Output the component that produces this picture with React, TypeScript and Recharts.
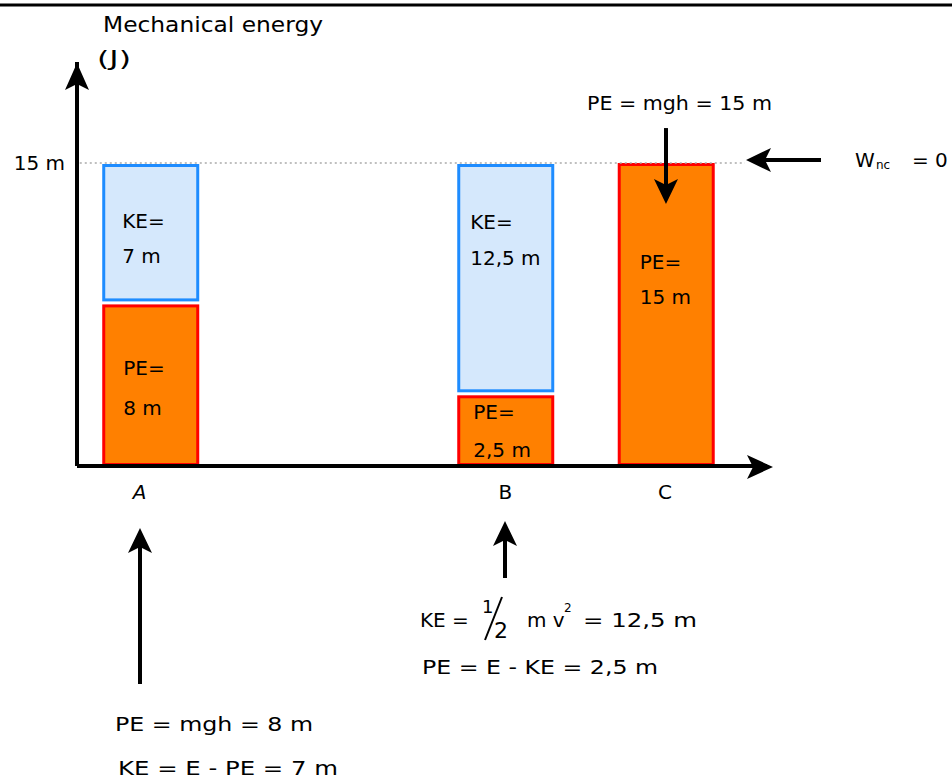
import React from 'react';
import { BarChart, Bar, XAxis, YAxis, ReferenceLine, Customized } from 'recharts';

// ---- data ----
const categories = ['A', 'B', 'C'];
const peValues = [8, 3.5, 15];
const keValues = [7, 11.5, 0];
const peLabels = ['8 m', '2,5 m', '15 m'];
const keLabels = ['7 m', '12,5 m', ''];
const yTicks = [15];
const yTickLabels = ['15 m'];

// ---- layout ----
const xSlots = [1.065, 6.21, 8.536];
const tickNudge = [-11, 0, -1];
// label offsets relative to the bar's top-left corner: [dx, dy line1, dy line2]
const keLabelPos = [[20, 58, 93], [13, 59, 95], [0, 0, 0]];
const peLabelPos = [[21, 64, 104], [16, 17, 55], [22, 99, 134]];

const FONT = "'Comic Sans MS', 'DejaVu Sans', sans-serif";
const KE_FILL = '#D5E8FC';
const KE_STROKE = '#1E8CFF';
const PE_FILL = '#FF8000';
const PE_STROKE = '#FF0000';

const data = categories.map((c, i) => ({ cat: c, x: xSlots[i], pe: peValues[i], ke: keValues[i] }));

const idxOf = (p: any) => {
  const i = categories.indexOf(p?.payload?.cat ?? p?.cat);
  return i >= 0 ? i : p.index ?? 0;
};

const BoxText = ({ x, y, lines }: { x: number; y: number[]; lines: string[] }) => (
  <g>
    {lines.map((t, k) => (
      <text key={k} x={x} y={y[k]} fontFamily={FONT} fontSize={20} fill="#000" dominantBaseline="central">
        {t}
      </text>
    ))}
  </g>
);

const PeShape = (p: any) => {
  const { x, y, width, height } = p;
  if (!height || height <= 0) return null;
  const i = idxOf(p);
  const pos = peLabelPos[i];
  return (
    <g>
      <rect x={x + 1.5} y={y + 1.5} width={width - 3} height={height - 3} fill={PE_FILL} stroke={PE_STROKE} strokeWidth={3} />
      <BoxText x={x + pos[0]} y={[y + pos[1], y + pos[2]]} lines={['PE=', peLabels[i]]} />
    </g>
  );
};

const KeShape = (p: any) => {
  const { x, y, width, height } = p;
  if (!height || height <= 8) return null;
  const i = idxOf(p);
  const pos = keLabelPos[i];
  return (
    <g>
      <rect x={x + 1.5} y={y + 2.5} width={width - 3} height={height - 7} fill={KE_FILL} stroke={KE_STROKE} strokeWidth={3} />
      <BoxText x={x + pos[0]} y={[y + pos[1], y + pos[2]]} lines={['KE=', keLabels[i]]} />
    </g>
  );
};

const XTick = (p: any) => {
  const { x, y, payload, index } = p;
  const i = xSlots.indexOf(payload.value);
  const k = i >= 0 ? i : index;
  return (
    <text x={x + (tickNudge[k] || 0)} y={y + 26} textAnchor="middle" dominantBaseline="central" fontFamily={FONT} fontSize={20} fontStyle={k === 0 ? 'italic' : 'normal'} fill="#000">
      {categories[k]}
    </text>
  );
};

const T = (props: any) => (
  <text fontFamily={FONT} fontSize={20} fill="#000" dominantBaseline="central" {...props} />
);

const ArrowUp = ({ x, tip, tail }: { x: number; tip: number; tail: number }) => (
  <g>
    <line x1={x} y1={tip + 14} x2={x} y2={tail} stroke="#000" strokeWidth={4} />
    <polygon points={`${x},${tip} ${x - 12},${tip + 25} ${x},${tip + 19} ${x + 12},${tip + 25}`} fill="#000" />
  </g>
);

const DownArrowShape = (p: any) => {
  const x = p.x1 ?? p.x2;
  const top = Math.min(p.y1, p.y2);
  const tip = Math.max(p.y1, p.y2);
  if (x == null || isNaN(x)) return null;
  return (
    <g>
      <line x1={x} y1={top} x2={x} y2={tip - 12} stroke="#000" strokeWidth={4} />
      <polygon points={`${x},${tip} ${x - 12},${tip - 25} ${x},${tip - 19} ${x + 12},${tip - 25}`} fill="#000" />
    </g>
  );
};

const Overlay = () => (
  <g>
    <line x1={0} y1={5} x2={952} y2={5} stroke="#000" strokeWidth={3} />
    <T x={103} y={24} fontSize={22} textLength={220} lengthAdjust="spacingAndGlyphs">Mechanical energy</T>
    <T x={97} y={58} fontSize={22} textLength={34} lengthAdjust="spacingAndGlyphs">(J)</T>
    {/* y axis arrowhead */}
    <polygon points="77,63 65,90 77,84 89,90" fill="#000" />
    {/* x axis arrowhead */}
    <polygon points="773,467 747,455 753,467 747,479" fill="#000" />
    {/* C annotation text */}
    <T x={587} y={103} textLength={185} lengthAdjust="spacingAndGlyphs">PE = mgh = 15 m</T>
    {/* Wnc arrow */}
    <line x1={760} y1={160} x2={821} y2={160} stroke="#000" strokeWidth={4} />
    <polygon points="746,160 771,148 765,160 771,172" fill="#000" />
    <T x={855} y={160}>W</T>
    <T x={876} y={165} fontSize={12}>nc</T>
    <T x={912} y={160}>= 0</T>
    {/* B annotation */}
    <ArrowUp x={505} tip={521} tail={578} />
    <T x={420} y={620}>KE =</T>
    <T x={482} y={606} fontSize={18}>1</T>
    <line x1={485} y1={640} x2={502} y2={597} stroke="#000" strokeWidth={2} />
    <T x={494} y={630} fontSize={22}>2</T>
    <T x={527} y={620}>m v</T>
    <T x={564} y={608} fontSize={12}>2</T>
    <T x={583} y={620} textLength={114} lengthAdjust="spacingAndGlyphs">= 12,5 m</T>
    <T x={422} y={667} textLength={236} lengthAdjust="spacingAndGlyphs">PE = E - KE = 2,5 m</T>
    {/* A annotation */}
    <ArrowUp x={140} tip={528} tail={684} />
    <T x={115} y={724} textLength={198} lengthAdjust="spacingAndGlyphs">PE = mgh = 8 m</T>
    <T x={118} y={768} textLength={220} lengthAdjust="spacingAndGlyphs">KE = E - PE  = 7 m</T>
  </g>
);

export default function App() {
  return (
    <div style={{ position: 'absolute', left: 0, top: 0, width: 952, height: 782, background: '#fff' }}>
      <BarChart width={952} height={782} data={data} margin={{ top: 62, right: 185, bottom: 286, left: 0 }}>
        <XAxis
          type="number"
          dataKey="x"
          domain={[0, 10]}
          ticks={xSlots}
          interval={0}
          height={30}
          axisLine={{ stroke: '#000', strokeWidth: 4 }}
          tickLine={false}
          tickSize={0}
          tickMargin={0}
          tick={<XTick />}
        />
        <YAxis
          type="number"
          domain={[0, 20]}
          ticks={yTicks}
          width={77}
          axisLine={{ stroke: '#000', strokeWidth: 4 }}
          tickLine={false}
          tickSize={0}
          tickMargin={12}
          tickFormatter={(v: number) => yTickLabels[yTicks.indexOf(v)] ?? String(v)}
          tick={{ fontFamily: FONT, fontSize: 20, fill: '#000' }}
          allowDataOverflow
        />
        <ReferenceLine
          segment={[{ x: 0.04, y: 15 }, { x: 9.68, y: 15 }]}
          stroke="#AAAAAA"
          strokeWidth={1.5}
          strokeDasharray="2 3"
        />
        <Bar dataKey="pe" stackId="e" barSize={97} isAnimationActive={false} shape={PeShape} />
        <Bar dataKey="ke" stackId="e" barSize={97} isAnimationActive={false} shape={KeShape} />
        <ReferenceLine
          segment={[{ x: xSlots[2], y: 16.73 }, { x: xSlots[2], y: 12.97 }]}
          shape={DownArrowShape}
          ifOverflow="visible"
        />
        <Customized component={Overlay} />
      </BarChart>
    </div>
  );
}
